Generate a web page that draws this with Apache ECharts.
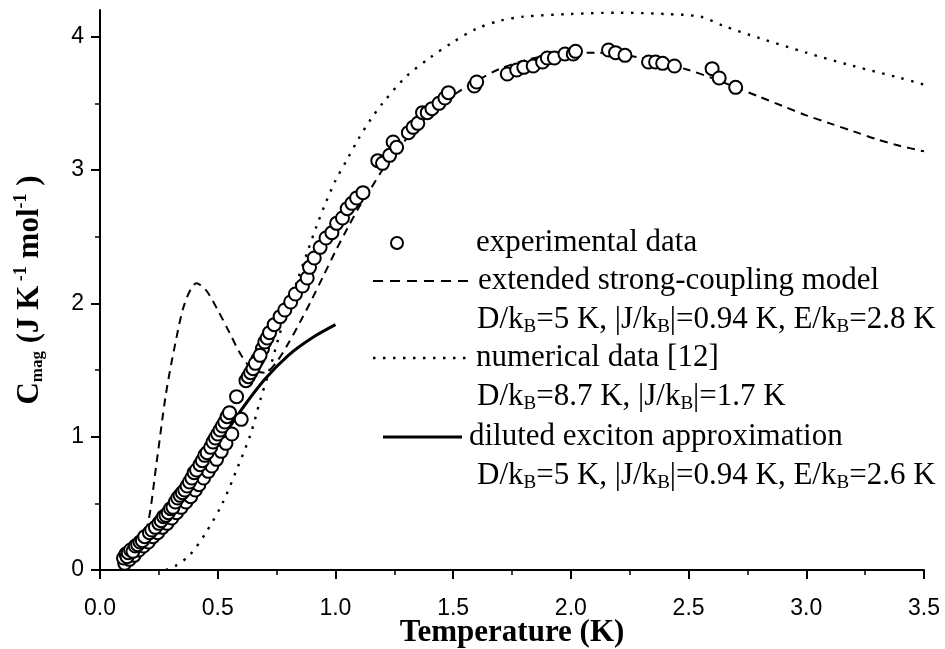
<!DOCTYPE html>
<html><head><meta charset="utf-8">
<script src="https://cdn.jsdelivr.net/npm/echarts@6/dist/echarts.min.js"></script>
<style>html,body{margin:0;padding:0;background:#fff}#c{width:945px;height:649px}</style>
</head><body><div id="c"></div>
<script>
// ---- data ----
const xTickValues = [0, 0.5, 1.0, 1.5, 2.0, 2.5, 3.0, 3.5];
const xTickLabels = ['0.0', '0.5', '1.0', '1.5', '2.0', '2.5', '3.0', '3.5'];
const yTickValues = [0, 1, 2, 3, 4];
const yTickLabels = ['0', '1', '2', '3', '4'];
const yMinorTicks = [0.5, 1.5, 2.5, 3.5];

// experimental data, run 1
const expX = [0.10,0.11,0.115,0.12,0.13,0.14,0.15,0.16,0.17,0.18,0.19,0.21,0.22,0.235,0.25,0.26,0.27,0.28,0.29,0.30,
  0.31,0.32,0.33,0.34,0.35,0.36,0.37,0.38,0.39,0.40,0.41,0.425,0.435,0.445,0.455,0.47,0.48,0.49,0.50,0.51,
  0.52,0.53,0.54,0.55,0.58,0.62,0.63,0.64,0.65,0.66,0.68,0.70,0.71,0.72,0.74,0.765,0.785,0.81,0.83,0.86,
  0.88,0.89,0.91,0.935,0.96,0.985,1.005,1.03,1.05,1.07,1.09,1.117,
  1.18,1.20,1.23,1.245,1.26,1.31,1.33,1.35,1.37,1.39,1.41,1.44,1.465,1.48,1.59,1.60,1.73,1.77,1.80,1.84,1.88,
  1.90,1.93,1.975,2.01,2.02,2.16,2.19,2.23,2.33,2.36,2.39,2.44,2.60,2.63,2.70];
const expY = [0.09,0.12,0.10,0.13,0.15,0.14,0.18,0.19,0.21,0.22,0.25,0.28,0.30,0.32,0.35,0.37,0.40,0.41,0.43,0.46,
  0.47,0.51,0.54,0.56,0.58,0.60,0.63,0.66,0.69,0.73,0.75,0.79,0.82,0.86,0.88,0.92,0.96,0.99,1.02,1.05,
  1.08,1.11,1.15,1.18,1.30,1.42,1.45,1.48,1.51,1.55,1.61,1.71,1.74,1.78,1.84,1.90,1.95,2.01,2.07,2.13,
  2.19,2.27,2.34,2.42,2.49,2.53,2.60,2.64,2.71,2.75,2.79,2.83,
  3.07,3.05,3.11,3.21,3.17,3.28,3.32,3.35,3.43,3.43,3.46,3.50,3.54,3.58,3.63,3.66,3.72,3.75,3.77,3.78,3.81,
  3.84,3.84,3.87,3.87,3.89,3.90,3.88,3.86,3.81,3.81,3.80,3.78,3.76,3.69,3.62];
// experimental data, run 2 (low-temperature band)
const exp2X = [0.105,0.125,0.145,0.165,0.185,0.205,0.225,0.245,0.265,0.285,0.305,0.325,0.345,0.365,0.385,0.405,
  0.42,0.44,0.46,0.475,0.495,0.515,0.535,0.56,0.60,0.67,0.69];
const exp2Y = [0.05,0.08,0.11,0.15,0.18,0.21,0.25,0.28,0.32,0.35,0.39,0.43,0.47,0.51,0.55,0.60,
  0.64,0.69,0.74,0.78,0.83,0.89,0.95,1.02,1.13,1.58,1.66];

const strongX = [0.10,0.15,0.20,0.24,0.28,0.32,0.36,0.41,0.45,0.50,0.55,0.60,0.65,0.70,0.75,0.80,0.85,0.90,0.95,1.00,
  1.05,1.10,1.15,1.20,1.30,1.40,1.50,1.60,1.70,1.80,1.90,2.00,2.10,2.20,2.30,2.40,2.50,2.60,2.70,2.80,2.90,3.00,
  3.10,3.20,3.30,3.40,3.50];
const strongY = [0.03,0.12,0.32,0.80,1.32,1.70,2.00,2.15,2.10,1.95,1.78,1.61,1.50,1.48,1.56,1.70,1.86,2.03,2.21,2.39,
  2.56,2.72,2.86,3.00,3.23,3.42,3.56,3.67,3.76,3.82,3.86,3.88,3.88,3.87,3.84,3.80,3.75,3.69,3.62,3.55,3.48,3.41,
  3.35,3.29,3.23,3.18,3.14];

const numX = [0.28,0.32,0.38,0.45,0.52,0.58,0.64,0.68,0.72,0.76,0.80,0.84,0.88,0.92,0.96,1.00,1.05,1.10,1.15,1.20,
  1.30,1.40,1.50,1.60,1.70,1.80,2.00,2.20,2.40,2.55,2.65,2.80,3.00,3.20,3.40,3.50];
const numY = [0.00,0.03,0.11,0.28,0.50,0.75,1.02,1.27,1.50,1.75,1.98,2.18,2.38,2.58,2.76,2.92,3.08,3.24,3.38,3.50,
  3.70,3.84,3.96,4.06,4.12,4.15,4.17,4.18,4.17,4.15,4.08,3.99,3.88,3.78,3.69,3.64];

const diluteX = [0.10,0.20,0.30,0.40,0.50,0.60,0.70,0.80,0.90,1.00];
const diluteY = [0.04,0.25,0.46,0.69,0.94,1.20,1.43,1.61,1.74,1.84];

const legendLabels = ['experimental data', 'extended strong-coupling model', 'numerical data [12]', 'diluted exciton approximation'];
const legendParams = [
  'D/k{s|B}=5 K, |J/k{s|B}|=0.94 K, E/k{s|B}=2.8 K',
  'D/k{s|B}=8.7 K, |J/k{s|B}|=1.7 K',
  'D/k{s|B}=5 K, |J/k{s|B}|=0.94 K, E/k{s|B}=2.6 K'
];

// ---- chart ----
const zip = (a, b) => a.map((v, i) => [v, b[i]]);
const chart = echarts.init(document.getElementById('c'), null, {renderer: 'canvas'});
const serif = 'Liberation Serif, Times New Roman, serif';
const sans = 'Liberation Sans, Arial, sans-serif';
const LF = 31;
const rich = {s: {fontFamily: serif, fontSize: 19, padding: [15, 0, 0, 0], fill: '#000', color: '#000'}};

function txt(x, y, text) {
  return {type: 'text', x: x, y: y, silent: true,
    style: {text: text, fontFamily: serif, fontSize: LF, fill: '#000', verticalAlign: 'middle', align: 'left', rich: rich}};
}
const graphic = [
  {type: 'circle', shape: {cx: 397, cy: 243, r: 6}, style: {fill: '#fff', stroke: '#000', lineWidth: 2}},
  txt(476, 243, legendLabels[0]),
  {type: 'line', shape: {x1: 373, y1: 281, x2: 470, y2: 281}, style: {stroke: '#000', lineWidth: 2, lineDash: [10, 7]}},
  txt(478, 281, legendLabels[1]),
  txt(477, 320, legendParams[0]),
  {type: 'line', shape: {x1: 373, y1: 358, x2: 471, y2: 358}, style: {stroke: '#000', lineWidth: 2.4, lineDash: [2.5, 7.5]}},
  txt(476, 358, legendLabels[2]),
  txt(477, 397, legendParams[1]),
  {type: 'line', shape: {x1: 383, y1: 437, x2: 462, y2: 437}, style: {stroke: '#000', lineWidth: 3}},
  txt(469, 437, legendLabels[3]),
  txt(477, 476, legendParams[2])
];

const option = {
  animation: false,
  backgroundColor: '#fff',
  grid: {left: 100, right: 21, top: 10, bottom: 79, containLabel: false, outerBoundsMode: 'none'},
  xAxis: {
    type: 'value', min: 0, max: 3.5, interval: 0.5,
    axisLine: {lineStyle: {color: '#000', width: 2}},
    axisTick: {inside: false, length: 9, lineStyle: {color: '#000', width: 2}},
    minorTick: {show: true, splitNumber: 2, length: 5, lineStyle: {color: '#000', width: 1.5}},
    splitLine: {show: false},
    axisLabel: {margin: 27, fontFamily: sans, fontSize: 23, color: '#000',
      formatter: v => { const i = xTickValues.indexOf(+v.toFixed(2)); return i >= 0 ? xTickLabels[i] : ''; }},
    name: 'Temperature (K)', nameLocation: 'middle', nameGap: 47, nameMoveOverlap: false,
    nameTextStyle: {fontFamily: serif, fontWeight: 'bold', fontSize: 31, color: '#000'}
  },
  yAxis: [{
    type: 'value', min: 0, max: 4.2,
    axisLine: {lineStyle: {color: '#000', width: 2}},
    axisTick: {inside: false, length: 9, lineStyle: {color: '#000', width: 2}, customValues: yTickValues},
    splitLine: {show: false},
    axisLabel: {margin: 16, fontFamily: sans, fontSize: 23, color: '#000', customValues: yTickValues,
      formatter: v => { const i = yTickValues.indexOf(v); return i >= 0 ? yTickLabels[i] : ''; }},
    name: 'C{sub|mag} (J K{sup| -1} mol{sup|-1} )', nameLocation: 'middle', nameGap: 52, nameMoveOverlap: false,
    nameTextStyle: {fontFamily: serif, fontWeight: 'bold', fontSize: 31, color: '#000',
      rich: {
        sub: {fontFamily: serif, fontWeight: 'bold', fontSize: 17, padding: [16, 0, 0, 0], color: '#000'},
        sup: {fontFamily: serif, fontWeight: 'bold', fontSize: 18, padding: [0, 0, 18, 0], color: '#000'}
      }}
  }, {
    type: 'value', min: 0, max: 4.2, position: 'left',
    axisLine: {show: false},
    axisTick: {inside: false, length: 5, lineStyle: {color: '#000', width: 1.5}, customValues: yMinorTicks},
    axisLabel: {show: false},
    splitLine: {show: false}
  }],
  graphic: graphic,
  series: [
    {type: 'line', name: legendLabels[1], data: zip(strongX, strongY), showSymbol: false, smooth: 0.3,
      lineStyle: {color: '#000', width: 2, type: [8, 6]}, z: 2},
    {type: 'line', name: legendLabels[2], data: zip(numX, numY), showSymbol: false, smooth: 0.3,
      lineStyle: {color: '#000', width: 2.4, type: [2.5, 7.5]}, z: 2},
    {type: 'line', name: legendLabels[3], data: zip(diluteX, diluteY), showSymbol: false, smooth: 0.3,
      lineStyle: {color: '#000', width: 3}, z: 2},
    {type: 'scatter', name: legendLabels[0], data: zip(exp2X, exp2Y), symbol: 'circle', symbolSize: 13,
      itemStyle: {color: '#fff', borderColor: '#000', borderWidth: 2, opacity: 1}, z: 3},
    {type: 'scatter', name: legendLabels[0], data: zip(expX, expY), symbol: 'circle', symbolSize: 13,
      itemStyle: {color: '#fff', borderColor: '#000', borderWidth: 2, opacity: 1}, z: 3}
  ]
};
chart.setOption(option);
</script>
</body></html>
